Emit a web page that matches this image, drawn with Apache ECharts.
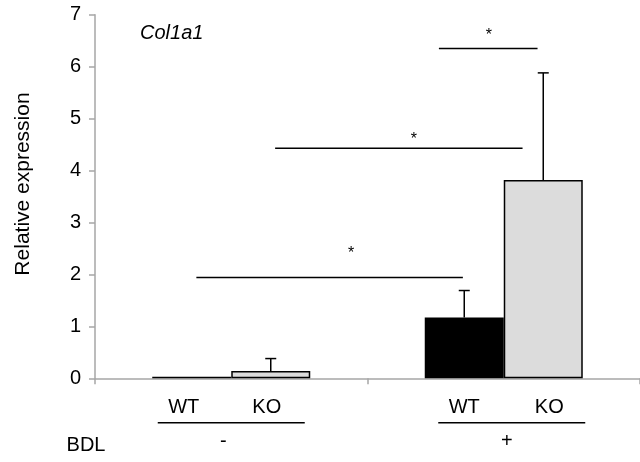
<!DOCTYPE html>
<html>
<head>
<meta charset="utf-8">
<script src="https://cdn.jsdelivr.net/npm/echarts@6/dist/echarts.min.js"></script>
<style>html,body{margin:0;padding:0;background:#fff}#c{width:640px;height:462px}</style>
</head>
<body>
<div id="c"></div>
<script>
// ---- data ----
const groups = ['-', '+'];
const genotypes = ['WT', 'KO'];
const wtMean = [0.03, 1.17];
const wtErrTop = [null, 1.69];
const koMean = [0.14, 3.82];
const koErrTop = [0.38, 5.88];
const yTicks = [0, 1, 2, 3, 4, 5, 6, 7];
// significance brackets (x in category units 0..2, y in data units)
const sigFrom = [0.372, 0.661, 1.262];
const sigTo = [1.350, 1.569, 1.624];
const sigY = [1.94, 4.43, 6.35];
const starX = [0.94, 1.17, 1.445];
const starY = [2.41, 4.59, 6.59];
const geneName = 'Col1a1';
const yName = 'Relative expression';
const groupName = 'BDL';

// ---- style ----
const FONT = "'Liberation Sans', Arial, sans-serif";
const BW = 79;
const AX = '#a6a6a6';
// small layout nudges for the text under the axis (px)
const genoShift = [[-8, -4], [0, 6]];
const underlineShift = [0, 8];
const signShift = [-8, 3];

const chart = echarts.init(document.getElementById('c'), null, {renderer: 'canvas'});

function errItem(side) {
  return function (params, api) {
    const top = api.value(2);
    if (top == null || isNaN(top)) return null;
    const c = api.coord([api.value(0), top]);
    const b = api.coord([api.value(0), api.value(1)]);
    const x = c[0] + side * BW / 2;
    return {
      type: 'group',
      children: [
        {type: 'line', shape: {x1: x, y1: b[1], x2: x, y2: c[1]}, style: {stroke: '#000', lineWidth: 1.5}},
        {type: 'line', shape: {x1: x - 5.5, y1: c[1], x2: x + 5.5, y2: c[1]}, style: {stroke: '#000', lineWidth: 1.5}}
      ]
    };
  };
}

const option = {
  animation: false,
  backgroundColor: '#fff',
  grid: {left: 95, right: -3, top: 14.7, bottom: 83.7, containLabel: false},
  xAxis: [
    {
      type: 'category', data: groups, gridIndex: 0,
      axisLine: {lineStyle: {color: AX, width: 1.5}},
      axisTick: {show: true, length: 6, lineStyle: {color: AX, width: 1.5}},
      axisLabel: {show: false}
    },
    {type: 'value', min: 0, max: 2, show: false, gridIndex: 0}
  ],
  yAxis: {
    type: 'value', min: yTicks[0], max: yTicks[yTicks.length - 1], interval: 1,
    axisLine: {show: true, lineStyle: {color: AX, width: 1.5}},
    axisTick: {show: true, length: 6, lineStyle: {color: AX, width: 1.5}},
    axisLabel: {color: '#000', fontSize: 20, fontFamily: FONT, margin: 14},
    splitLine: {show: false}
  },
  series: [
    {
      name: genotypes[0], type: 'bar', data: wtMean, barWidth: BW, barGap: '0%',
      itemStyle: {color: '#000', borderColor: '#000', borderWidth: 1.5}
    },
    {
      name: genotypes[1], type: 'bar', data: koMean, barWidth: BW, barGap: '0%',
      itemStyle: {color: '#dcdcdc', borderColor: '#000', borderWidth: 1.5}
    },
    {
      type: 'custom', renderItem: errItem(-1), z: 5,
      data: groups.map((g, i) => [i, wtMean[i], wtErrTop[i]]),
      encode: {x: 0, y: 2}
    },
    {
      type: 'custom', renderItem: errItem(1), z: 5,
      data: groups.map((g, i) => [i, koMean[i], koErrTop[i]]),
      encode: {x: 0, y: 2}
    },
    {
      type: 'custom', xAxisIndex: 1, z: 6,
      data: sigY.map((y, i) => [sigFrom[i], sigTo[i], y]),
      encode: {x: [0, 1], y: 2},
      renderItem: function (params, api) {
        const a = api.coord([api.value(0), api.value(2)]);
        const b = api.coord([api.value(1), api.value(2)]);
        return {type: 'line', shape: {x1: a[0], y1: a[1], x2: b[0], y2: b[1]}, style: {stroke: '#000', lineWidth: 1.4}};
      }
    },
    {
      type: 'custom', xAxisIndex: 1, z: 6,
      data: starY.map((y, i) => [starX[i], y]),
      encode: {x: 0, y: 1},
      renderItem: function (params, api) {
        const p = api.coord([api.value(0), api.value(1)]);
        return {type: 'text', x: p[0], y: p[1], style: {text: '*', fill: '#000', font: '16px ' + FONT, textAlign: 'center', textVerticalAlign: 'middle'}};
      }
    }
  ]
};
chart.setOption(option);

// annotation text below the axis, positioned from the library's scales
const px = (i, v) => chart.convertToPixel({xAxisIndex: 0, yAxisIndex: 0}, [i, v]);
const y0 = px(0, 0)[1];
const g = [];
groups.forEach((grp, i) => {
  const cx = px(i, 0)[0];
  genotypes.forEach((gt, j) => {
    g.push({type: 'text', x: cx + (j === 0 ? -1 : 1) * BW / 2 + genoShift[i][j], y: y0 + 29,
      style: {text: gt, fill: '#000', font: '20px ' + FONT, textAlign: 'center', textVerticalAlign: 'middle'}});
  });
  const uc = cx + underlineShift[i];
  g.push({type: 'line', shape: {x1: uc - 73.5, y1: y0 + 44.5, x2: uc + 73.5, y2: y0 + 44.5}, style: {stroke: '#000', lineWidth: 1.4}});
  g.push({type: 'text', x: cx + signShift[i], y: y0 + 63,
    style: {text: grp, fill: '#000', font: '20px ' + FONT, textAlign: 'center', textVerticalAlign: 'middle'}});
});
g.push({type: 'text', x: 86, y: y0 + 67,
  style: {text: groupName, fill: '#000', font: '20px ' + FONT, textAlign: 'center', textVerticalAlign: 'middle'}});
g.push({type: 'text', x: 140, y: 33,
  style: {text: geneName, fill: '#000', font: 'italic 20px ' + FONT, textAlign: 'left', textVerticalAlign: 'middle'}});
g.push({type: 'text', x: 23, y: 184, rotation: Math.PI / 2,
  style: {text: yName, fill: '#000', font: '21px ' + FONT, textAlign: 'center', textVerticalAlign: 'middle'}});
chart.setOption({graphic: g});
</script>
</body>
</html>
